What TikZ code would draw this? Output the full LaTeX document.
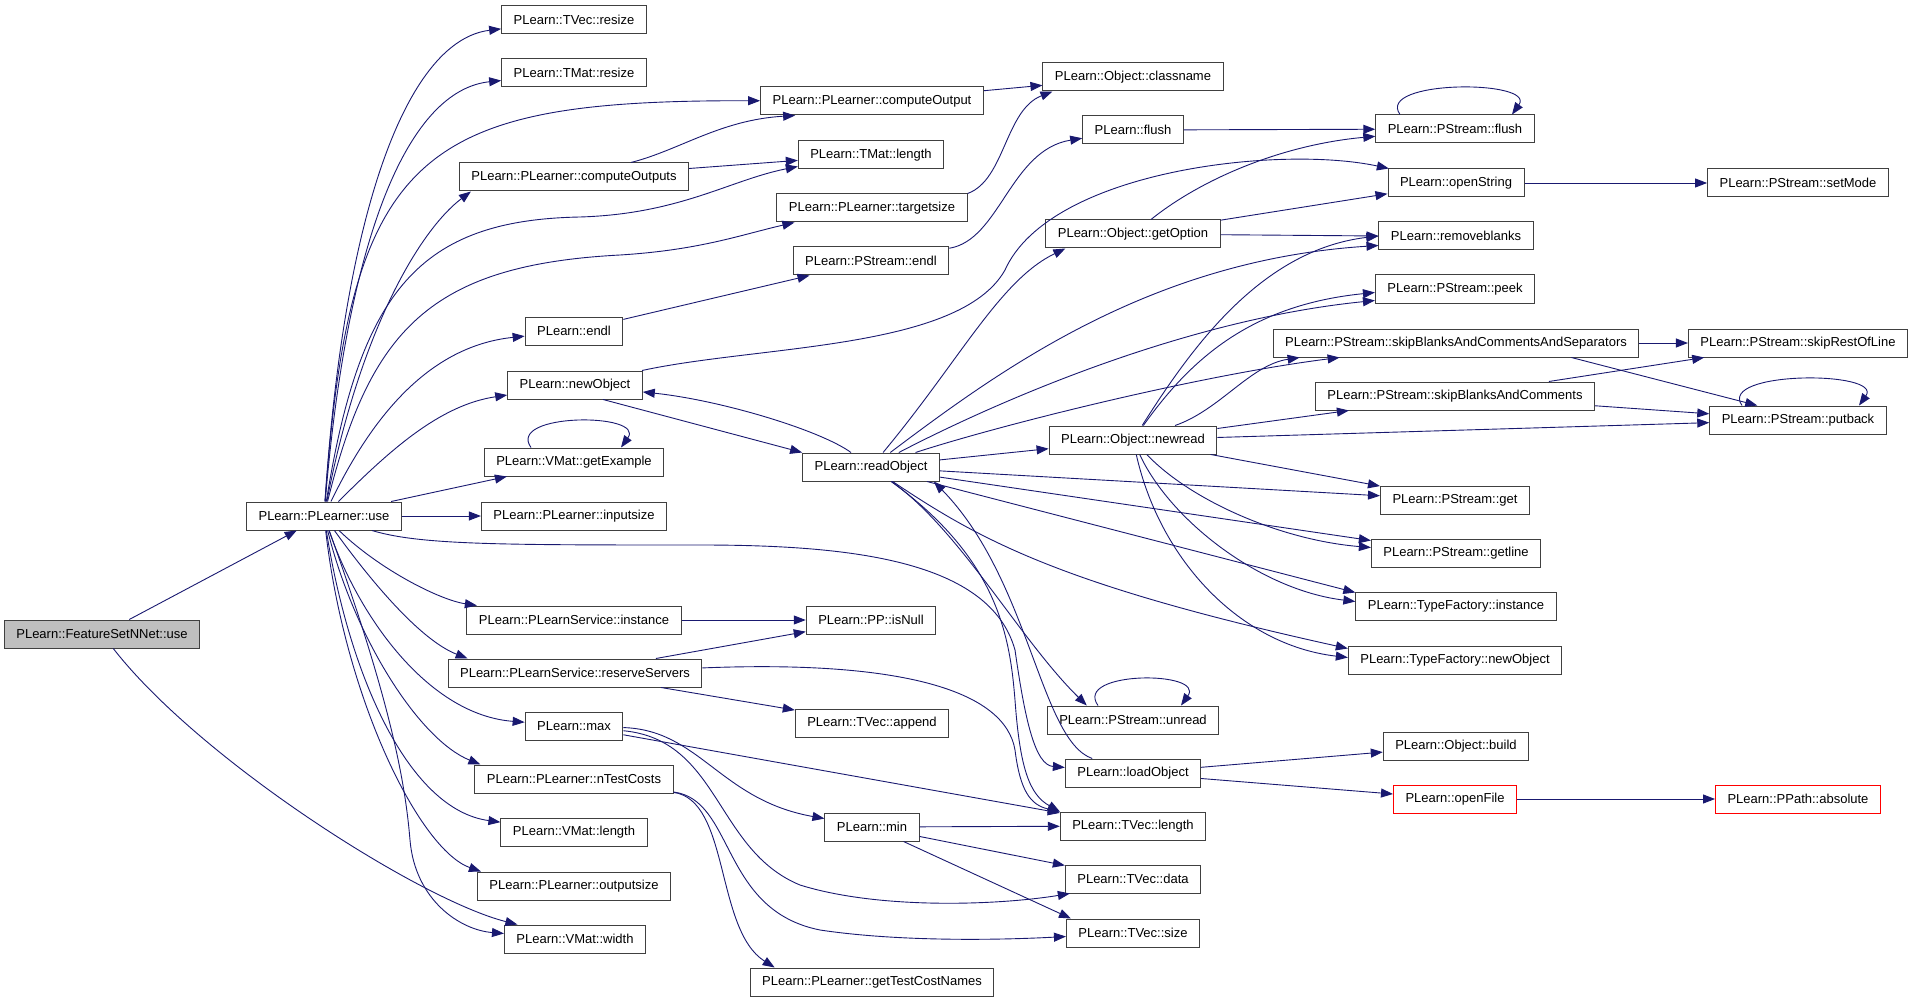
\documentclass[tikz,border=0pt]{standalone}
\usepackage{fontspec}
\setmainfont{Liberation Sans}
\usetikzlibrary{arrows.meta}
\definecolor{edgeblue}{HTML}{191970}
\definecolor{boxgray}{HTML}{404040}
\definecolor{rootgray}{HTML}{BFBFBF}

\begin{document}
\begin{tikzpicture}[x=1pt,y=-1pt,
    fn/.style={draw=boxgray, line width=1pt, fill=white, minimum height=28pt, inner xsep=12pt, font=\fontsize{13}{15}\selectfont},
    root/.style={fn, fill=rootgray},
    trunc/.style={fn, draw=red},
    call/.style={draw=edgeblue, line width=0.9pt, -{Triangle[length=12pt,width=9pt]}}]

    \useasboundingbox (0,0) rectangle (1915,1003);

    \node[root] (fsnn) at (102,634) {PLearn::FeatureSetNNet::use};
    \node[fn] (pluse) at (324,516) {PLearn::PLearner::use};

    \node[fn] (tvresize) at (574,20) {PLearn::TVec::resize};
    \node[fn] (tmresize) at (574,73) {PLearn::TMat::resize};
    \node[fn] (compouts) at (574,177) {PLearn::PLearner::computeOutputs};
    \node[fn] (endl) at (574,331) {PLearn::endl};
    \node[fn] (newobj) at (575,385) {PLearn::newObject};
    \node[fn] (getex) at (574,462) {PLearn::VMat::getExample};
    \node[fn] (inputsize) at (574,516) {PLearn::PLearner::inputsize};
    \node[fn] (psinst) at (574,620) {PLearn::PLearnService::instance};
    \node[fn] (reserve) at (575,673) {PLearn::PLearnService::reserveServers};
    \node[fn] (max) at (574,726) {PLearn::max};
    \node[fn] (ntest) at (574,779) {PLearn::PLearner::nTestCosts};
    \node[fn] (vmlength) at (574,832) {PLearn::VMat::length};
    \node[fn] (outsize) at (574,886) {PLearn::PLearner::outputsize};
    \node[fn] (vmwidth) at (575,939) {PLearn::VMat::width};

    \node[fn] (compout) at (872,101) {PLearn::PLearner::computeOutput};
    \node[fn] (tmlength) at (871,155) {PLearn::TMat::length};
    \node[fn] (target) at (872,208) {PLearn::PLearner::targetsize};
    \node[fn] (psendl) at (871,261) {PLearn::PStream::endl};
    \node[fn] (readobj) at (871,467) {PLearn::readObject};
    \node[fn] (isnull) at (871,620) {PLearn::PP::isNull};
    \node[fn] (append) at (872,723) {PLearn::TVec::append};
    \node[fn] (min) at (872,827) {PLearn::min};
    \node[fn] (gtcn) at (872,982) {PLearn::PLearner::getTestCostNames};

    \node[fn] (classname) at (1133,77) {PLearn::Object::classname};
    \node[fn] (flush) at (1133,130) {PLearn::flush};
    \node[fn] (getopt) at (1133,234) {PLearn::Object::getOption};
    \node[fn] (newread) at (1133,440) {PLearn::Object::newread};
    \node[fn] (unread) at (1133,720) {PLearn::PStream::unread};
    \node[fn] (loadobj) at (1133,773) {PLearn::loadObject};
    \node[fn] (tvlength) at (1133,826) {PLearn::TVec::length};
    \node[fn] (tvdata) at (1133,879) {PLearn::TVec::data};
    \node[fn] (tvsize) at (1133,933) {PLearn::TVec::size};

    \node[fn] (psflush) at (1455,129) {PLearn::PStream::flush};
    \node[fn] (openstr) at (1456,183) {PLearn::openString};
    \node[fn] (rmblanks) at (1456,236) {PLearn::removeblanks};
    \node[fn] (peek) at (1455,289) {PLearn::PStream::peek};
    \node[fn] (skipsep) at (1456,343) {PLearn::PStream::skipBlanksAndCommentsAndSeparators};
    \node[fn] (skipbc) at (1455,396) {PLearn::PStream::skipBlanksAndComments};
    \node[fn] (get) at (1455,500) {PLearn::PStream::get};
    \node[fn] (getline) at (1456,553) {PLearn::PStream::getline};
    \node[fn] (tfinst) at (1456,606) {PLearn::TypeFactory::instance};
    \node[fn] (tfnew) at (1455,660) {PLearn::TypeFactory::newObject};
    \node[fn] (build) at (1456,746) {PLearn::Object::build};
    \node[trunc] (openfile) at (1455,799) {PLearn::openFile};

    \node[fn] (setmode) at (1798,183) {PLearn::PStream::setMode};
    \node[fn] (skiprest) at (1798,343) {PLearn::PStream::skipRestOfLine};
    \node[fn] (putback) at (1798,420) {PLearn::PStream::putback};
    \node[trunc] (absolute) at (1798,799) {PLearn::PPath::absolute};

    \draw[call] (fsnn) -- (pluse);
    \draw[call] (fsnn) .. controls (200,760) and (420,900) .. (vmwidth);

    \draw[call] (pluse) .. controls (345,200) and (410,40) .. (tvresize);
    \draw[call] (pluse) .. controls (348,230) and (410,90) .. (tmresize);
    \draw[call] (pluse) .. controls (350,150) and (420,100) .. (compout);
    \draw[call] (pluse) .. controls (360,330) and (420,230) .. ([xshift=12pt]compouts.south west);
    \draw[call] (pluse) .. controls (360,290) and (420,220) .. (580,217) .. controls (680,214) and (730,180) .. ([yshift=3pt]tmlength.south west);
    \draw[call] (pluse) .. controls (370,330) and (430,265) .. (620,255) .. controls (700,250) and (740,235) .. ([xshift=18pt]target.south west);
    \draw[call] (pluse) .. controls (380,400) and (440,345) .. (endl);
    \draw[call] (pluse) .. controls (390,450) and (440,405) .. (newobj);
    \draw[call] (pluse) -- (getex);
    \draw[call] (pluse) -- (inputsize);
    \draw[call] (pluse) .. controls (420,545) and (500,545) .. (700,545) .. controls (850,545) and (990,560) .. (1015,650) .. controls (1025,720) and (1035,765) .. (loadobj);
    \draw[call] (pluse) .. controls (380,570) and (440,600) .. (psinst);
    \draw[call] (pluse) .. controls (370,580) and (420,640) .. ([xshift=20pt]reserve.north west);
    \draw[call] (pluse) .. controls (360,620) and (430,715) .. (max);
    \draw[call] (pluse) .. controls (355,640) and (420,740) .. ([xshift=6pt]ntest.north west);
    \draw[call] (pluse) .. controls (350,680) and (410,810) .. (vmlength);
    \draw[call] (pluse) .. controls (345,700) and (420,850) .. ([xshift=4pt]outsize.north west);
    \draw[call] (pluse) .. controls (390,700) and (405,780) .. (410,840) .. controls (415,900) and (460,930) .. (vmwidth);

    \draw[call] (compouts) .. controls (680,150) and (720,120) .. ([xshift=35pt]compout.south west);
    \draw[call] (compouts) -- (tmlength);
    \draw[call] (compout) -- (classname);
    \draw[call] (target.north east) .. controls (1005,180) and (1005,110) .. ([xshift=10pt]classname.south west);
    \draw[call] (endl) -- (psendl);
    \draw[call] (psendl) .. controls (1000,240) and (1010,150) .. (flush);
    \draw[call] (flush) -- (psflush);
    \draw[call] (newobj) .. controls (760,345) and (960,350) .. (1005,270) .. controls (1050,170) and (1280,145) .. (openstr);
    \draw[call] ([xshift=28pt]newobj.south) -- (readobj.north west);
    \draw[call] (readobj) .. controls (820,430) and (720,400) .. (newobj);

    \draw[call] (readobj) .. controls (960,360) and (1000,280) .. ([xshift=20pt]getopt.south west);
    \draw[call] (readobj) .. controls (1000,370) and (1150,260) .. ([yshift=5pt]rmblanks.south west);
    \draw[call] (readobj) .. controls (990,405) and (1180,320) .. ([yshift=3pt]peek.south west);
    \draw[call] (readobj) .. controls (1000,425) and (1200,375) .. ([xshift=67pt]skipsep.south west);
    \draw[call] (readobj) -- (newread);
    \draw[call] (readobj) -- (get);
    \draw[call] (readobj) -- (getline);
    \draw[call] (readobj) -- ([yshift=-1pt]tfinst.north west);
    \draw[call] (readobj) .. controls (980,540) and (1060,585) .. ([yshift=-3pt]tfnew.north west);
    \draw[call] (readobj) .. controls (960,530) and (1020,640) .. ([xshift=40pt]unread.north west);
    \draw[call] (readobj) .. controls (1000,560) and (1010,640) .. (1015,700) .. controls (1020,770) and (1030,795) .. (tvlength.north west);
    \draw[call] (loadobj) .. controls (1040,740) and (1030,580) .. ([xshift=-6pt]readobj.south east);

    \draw[call] (psinst) -- (isnull);
    \draw[call] (reserve) -- (isnull);
    \draw[call] (reserve) -- (append);
    \draw[call] (reserve) .. controls (900,660) and (1005,690) .. (1015,750) .. controls (1020,790) and (1030,805) .. (tvlength.north west);
    \draw[call] (max) .. controls (700,730) and (720,800) .. (min);
    \draw[call] (max) -- (tvlength);
    \draw[call] (max) .. controls (720,740) and (715,850) .. (800,885) .. controls (880,910) and (1000,905) .. ([xshift=5pt]tvdata.south west);
    \draw[call] (ntest) .. controls (730,800) and (715,930) .. ([xshift=25pt]gtcn.north west);
    \draw[call] (ntest) .. controls (735,800) and (720,910) .. (820,930) .. controls (900,942) and (1000,940) .. (tvsize);
    \draw[call] (min) -- (tvlength);
    \draw[call] (min) -- (tvdata);
    \draw[call] (min) -- ([xshift=5pt]tvsize.north west);

    \draw[call] (loadobj) -- (build);
    \draw[call] (loadobj) -- (openfile);
    \draw[call] (openfile) -- (absolute);

    \draw[call] (getopt) .. controls (1200,180) and (1280,145) .. (psflush);
    \draw[call] (getopt) -- (openstr);
    \draw[call] (getopt) -- (rmblanks.west);

    \draw[call] (newread) .. controls (1190,350) and (1260,250) .. (rmblanks.west);
    \draw[call] (newread) .. controls (1190,360) and (1250,305) .. ([yshift=11pt]peek.south west);
    \draw[call] (newread) .. controls (1220,410) and (1250,365) .. ([xshift=27pt]skipsep.south west);
    \draw[call] (newread) -- (skipbc);
    \draw[call] (newread) -- (putback);
    \draw[call] (newread) -- (get);
    \draw[call] (newread) .. controls (1190,500) and (1280,540) .. ([yshift=-9pt]getline.north west);
    \draw[call] (newread) .. controls (1170,520) and (1260,590) .. ([yshift=-10pt]tfinst.north west);
    \draw[call] (newread) .. controls (1160,560) and (1240,645) .. ([yshift=-12pt]tfnew.north west);

    \draw[call] (openstr) -- (setmode);
    \draw[call] (skipsep) -- (skiprest);
    \draw[call] ([xshift=-68pt]skipsep.south east) -- ([xshift=48pt]putback.north west);
    \draw[call] (skipbc) -- (skiprest);
    \draw[call] (skipbc) -- (putback);

    \draw[call] ([xshift=-43pt]getex.north) .. controls +(-25,-35) and +(25,-35) .. ([xshift=47pt]getex.north);
    \draw[call] ([xshift=-55pt]psflush.north) .. controls +(-25,-35) and +(25,-35) .. ([xshift=57pt]psflush.north);
    \draw[call] ([xshift=-35pt]unread.north) .. controls +(-25,-35) and +(25,-35) .. ([xshift=48pt]unread.north);
    \draw[call] ([xshift=-56pt]putback.north) .. controls +(-25,-35) and +(25,-35) .. ([xshift=61pt]putback.north);
\end{tikzpicture}
\end{document}
